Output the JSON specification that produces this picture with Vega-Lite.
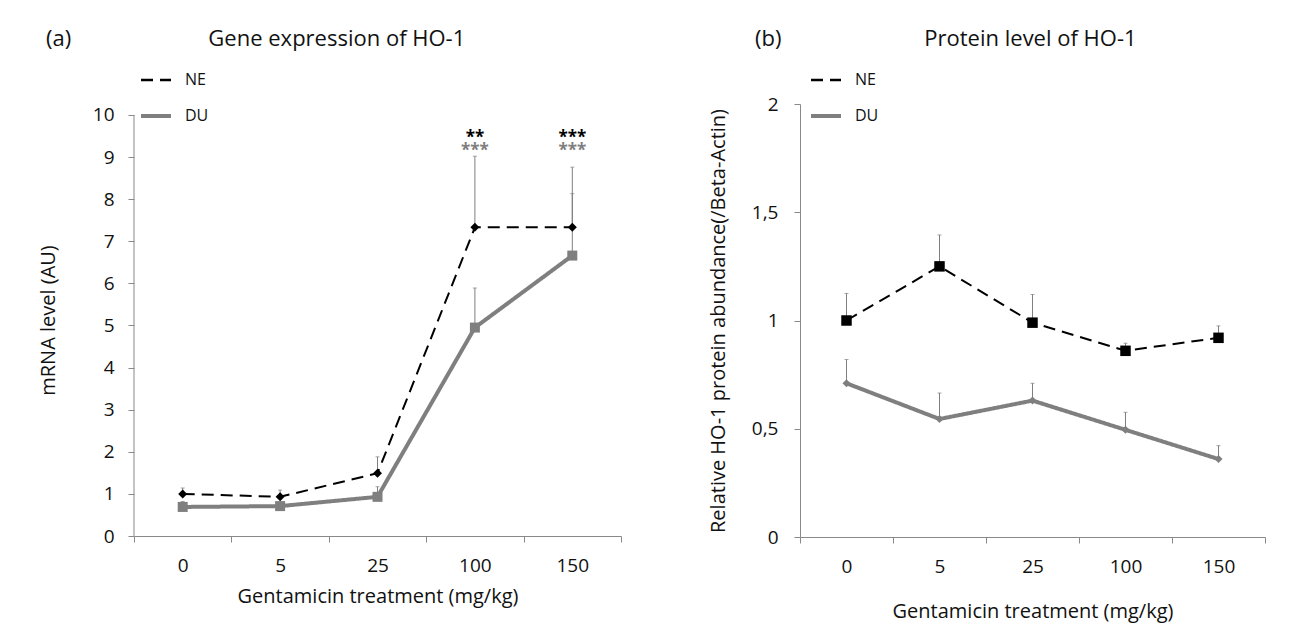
{
  "$schema": "https://vega.github.io/schema/vega-lite/v6.json",
  "padding": {"left": 38, "top": 28, "right": 5, "bottom": 5},
  "background": "white",
  "bounds": "flush",
  "spacing": 179,
  "config": {
    "font": "Open Sans",
    "view": {"stroke": null},
    "axis": {"grid": false, "domainColor": "#898989", "tickColor": "#898989", "tickSize": 6, "labelColor": "#111111", "titleColor": "#111111", "labelFontSize": 19, "titleFontSize": 20, "titleFontWeight": "normal", "labelFont": "Open Sans", "titleFont": "Open Sans"},
    "legend": {"labelFont": "Open Sans"}
  },
  "resolve": {"scale": {"color": "independent", "strokeDash": "independent", "x": "independent", "y": "independent"}, "legend": {"color": "independent", "strokeDash": "independent"}},
  "datasets": {
    "a": [
      {"dose": "0", "series": "NE", "v": 1.0, "hi": 1.14},
      {"dose": "5", "series": "NE", "v": 0.93, "hi": 1.09},
      {"dose": "25", "series": "NE", "v": 1.49, "hi": 1.88},
      {"dose": "100", "series": "NE", "v": 7.33, "hi": 9.02},
      {"dose": "150", "series": "NE", "v": 7.33, "hi": 8.76},
      {"dose": "0", "series": "DU", "v": 0.69, "hi": 0.82},
      {"dose": "5", "series": "DU", "v": 0.71, "hi": 0.8},
      {"dose": "25", "series": "DU", "v": 0.93, "hi": 1.17},
      {"dose": "100", "series": "DU", "v": 4.95, "hi": 5.89},
      {"dose": "150", "series": "DU", "v": 6.66, "hi": 8.13}
    ],
    "b": [
      {"dose": "0", "series": "NE", "v": 1.0, "hi": 1.125},
      {"dose": "5", "series": "NE", "v": 1.25, "hi": 1.395},
      {"dose": "25", "series": "NE", "v": 0.99, "hi": 1.12},
      {"dose": "100", "series": "NE", "v": 0.86, "hi": 0.895},
      {"dose": "150", "series": "NE", "v": 0.92, "hi": 0.975},
      {"dose": "0", "series": "DU", "v": 0.71, "hi": 0.82},
      {"dose": "5", "series": "DU", "v": 0.545, "hi": 0.665},
      {"dose": "25", "series": "DU", "v": 0.63, "hi": 0.71},
      {"dose": "100", "series": "DU", "v": 0.495, "hi": 0.576},
      {"dose": "150", "series": "DU", "v": 0.36, "hi": 0.422}
    ],
    "stars": [
      {"dose": "100", "series": "NE", "v": 9.34, "label": "**"},
      {"dose": "100", "series": "DU", "v": 9.03, "label": "***"},
      {"dose": "150", "series": "NE", "v": 9.34, "label": "***"},
      {"dose": "150", "series": "DU", "v": 9.03, "label": "***"}
    ],
    "yaxis": [
      {"dose": "0", "lo": 0, "top": 10}
    ]
  },
  "hconcat": [
    {
      "width": 487,
      "height": 432,
      "title": {"text": "(a)\u00a0\u00a0\u00a0\u00a0\u00a0\u00a0\u00a0\u00a0\u00a0\u00a0\u00a0\u00a0\u00a0\u00a0\u00a0\u00a0\u00a0\u00a0\u00a0\u00a0\u00a0\u00a0\u00a0\u00a0Gene expression of HO-1", "anchor": "start", "frame": "group", "dx": -88, "fontSize": 22, "fontWeight": "normal", "color": "#111111", "offset": 21},
      "encoding": {
        "x": {"field": "dose", "type": "nominal", "scale": {"type": "band", "domain": ["0", "5", "25", "100", "150"], "paddingInner": 0, "paddingOuter": 0},
              "axis": {"title": "Gentamicin treatment (mg/kg)", "tickBand": "extent", "labelAngle": 0, "labelPadding": 14, "titlePadding": 11}}
      },
      "layer": [
        {
          "data": {"name": "yaxis"},
          "mark": {"type": "rule", "color": "#898989", "strokeWidth": 1},
          "encoding": {
            "x": {"field": "dose", "type": "nominal", "bandPosition": 0},
            "y": {"field": "lo", "type": "quantitative", "scale": {"domain": [0, 10.26], "nice": false, "zero": true},
                  "axis": {"values": [0, 1, 2, 3, 4, 5, 6, 7, 8, 9, 10], "title": "mRNA level (AU)", "labelPadding": 14, "titlePadding": 34, "domain": false}},
            "y2": {"field": "top"}
          }
        },
        {
          "data": {"name": "a"},
          "mark": {"type": "rule", "color": "#7f7f7f", "strokeWidth": 1},
          "encoding": {
            "y": {"field": "v", "type": "quantitative"},
            "y2": {"field": "hi"}
          }
        },
        {
          "data": {"name": "a"},
          "mark": {"type": "tick", "color": "#7f7f7f", "size": 4, "thickness": 1},
          "encoding": {"y": {"field": "hi", "type": "quantitative"}}
        },
        {
          "data": {"name": "a"},
          "mark": {"type": "line", "strokeCap": "butt"},
          "encoding": {
            "y": {"field": "v", "type": "quantitative"},
            "color": {"field": "series", "type": "nominal", "scale": {"domain": ["NE", "DU"], "range": ["#000000", "#7f7f7f"]},
                      "legend": {"orient": "none", "legendX": 14, "legendY": -32, "title": null, "symbolType": "stroke", "symbolSize": 900, "labelFontSize": 16, "labelOffset": 21, "rowPadding": 20, "padding": 0, "labelColor": "#111111",
                                 "encode": {"symbols": {"update": {"strokeWidth": {"signal": "datum.value === 'DU' ? 4 : 2.5"}}}}}},
            "strokeDash": {"field": "series", "type": "nominal", "scale": {"domain": ["NE", "DU"], "range": [[12, 7], [1, 0]]},
                      "legend": {"orient": "none", "legendX": 14, "legendY": -32, "title": null, "symbolType": "stroke", "symbolSize": 900, "labelFontSize": 16, "labelOffset": 21, "rowPadding": 20, "padding": 0, "labelColor": "#111111",
                                 "encode": {"symbols": {"update": {"strokeWidth": {"signal": "datum.value === 'DU' ? 4 : 2.5"}}}}}},
            "strokeWidth": {"condition": {"test": "datum.series === 'DU'", "value": 4}, "value": 2}
          }
        },
        {
          "data": {"name": "a"},
          "transform": [{"filter": "datum.series === 'NE'"}],
          "mark": {"type": "point", "shape": "diamond", "filled": true, "color": "#000000", "size": 81, "opacity": 1},
          "encoding": {"y": {"field": "v", "type": "quantitative"}}
        },
        {
          "data": {"name": "a"},
          "transform": [{"filter": "datum.series === 'DU'"}],
          "mark": {"type": "point", "shape": "square", "filled": true, "color": "#7f7f7f", "size": 100, "opacity": 1},
          "encoding": {"y": {"field": "v", "type": "quantitative"}}
        },
        {
          "data": {"name": "stars"},
          "mark": {"type": "text", "fontSize": 17, "fontWeight": "bold", "baseline": "alphabetic", "align": "center"},
          "encoding": {
            "y": {"field": "v", "type": "quantitative"},
            "text": {"field": "label"},
            "color": {"field": "series", "type": "nominal", "scale": {"domain": ["NE", "DU"], "range": ["#000000", "#7f7f7f"]}, "legend": null}
          }
        }
      ]
    },
    {
      "width": 465,
      "height": 433,
      "title": {"text": "(b)\u00a0\u00a0\u00a0\u00a0\u00a0\u00a0\u00a0\u00a0\u00a0\u00a0\u00a0\u00a0\u00a0\u00a0\u00a0\u00a0\u00a0\u00a0\u00a0\u00a0\u00a0\u00a0\u00a0\u00a0\u00a0Protein level of HO-1", "anchor": "start", "frame": "group", "dx": -45, "fontSize": 22, "fontWeight": "normal", "color": "#111111", "offset": 21},
      "encoding": {
        "x": {"field": "dose", "type": "nominal", "scale": {"type": "band", "domain": ["0", "5", "25", "100", "150"], "paddingInner": 0, "paddingOuter": 0},
              "axis": {"title": "Gentamicin treatment (mg/kg)", "tickBand": "extent", "labelAngle": 0, "labelPadding": 14, "titlePadding": 25}}
      },
      "layer": [
        {
          "data": {"name": "b"},
          "mark": {"type": "rule", "color": "#7f7f7f", "strokeWidth": 1},
          "encoding": {
            "y": {"field": "v", "type": "quantitative", "scale": {"domain": [0, 2], "nice": false},
                  "axis": {"values": [0, 0.5, 1, 1.5, 2], "labelExpr": "replace(toString(datum.value), '.', ',')", "title": "Relative HO-1 protein abundance(/Beta-Actin)", "labelPadding": 16, "titlePadding": 23}},
            "y2": {"field": "hi"}
          }
        },
        {
          "data": {"name": "b"},
          "mark": {"type": "tick", "color": "#7f7f7f", "size": 4, "thickness": 1},
          "encoding": {"y": {"field": "hi", "type": "quantitative"}}
        },
        {
          "data": {"name": "b"},
          "mark": {"type": "line", "strokeCap": "butt"},
          "encoding": {
            "y": {"field": "v", "type": "quantitative"},
            "color": {"field": "series", "type": "nominal", "scale": {"domain": ["NE", "DU"], "range": ["#000000", "#7f7f7f"]},
                      "legend": {"orient": "none", "legendX": 18, "legendY": -32, "title": null, "symbolType": "stroke", "symbolSize": 900, "labelFontSize": 16, "labelOffset": 21, "rowPadding": 20, "padding": 0, "labelColor": "#111111",
                                 "encode": {"symbols": {"update": {"strokeWidth": {"signal": "datum.value === 'DU' ? 4 : 2.5"}}}}}},
            "strokeDash": {"field": "series", "type": "nominal", "scale": {"domain": ["NE", "DU"], "range": [[12, 7], [1, 0]]},
                      "legend": {"orient": "none", "legendX": 18, "legendY": -32, "title": null, "symbolType": "stroke", "symbolSize": 900, "labelFontSize": 16, "labelOffset": 21, "rowPadding": 20, "padding": 0, "labelColor": "#111111",
                                 "encode": {"symbols": {"update": {"strokeWidth": {"signal": "datum.value === 'DU' ? 4 : 2.5"}}}}}},
            "strokeWidth": {"condition": {"test": "datum.series === 'DU'", "value": 4}, "value": 2}
          }
        },
        {
          "data": {"name": "b"},
          "transform": [{"filter": "datum.series === 'NE'"}],
          "mark": {"type": "point", "shape": "square", "filled": true, "color": "#000000", "size": 110, "opacity": 1},
          "encoding": {"y": {"field": "v", "type": "quantitative"}}
        },
        {
          "data": {"name": "b"},
          "transform": [{"filter": "datum.series === 'DU'"}],
          "mark": {"type": "point", "shape": "diamond", "filled": true, "color": "#7f7f7f", "size": 64, "opacity": 1},
          "encoding": {"y": {"field": "v", "type": "quantitative"}}
        }
      ]
    }
  ]
}
